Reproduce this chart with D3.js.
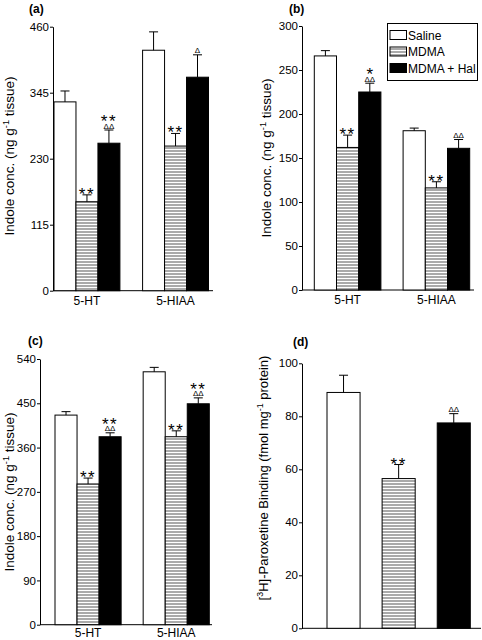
<!DOCTYPE html>
<html><head><meta charset="utf-8">
<script src="https://cdn.jsdelivr.net/npm/d3@7"></script>
<style>
body{margin:0;background:#fff}
text{font-family:"Liberation Sans",Arial,Helvetica,sans-serif;fill:#000}
</style>
</head><body>
<svg id="chart" width="482" height="640"></svg>
<script>
// ---------------- DATA ----------------
const categories = ["5-HT", "5-HIAA"];
const seriesNames = ["Saline", "MDMA", "MDMA + Hal"];

// Panel (a)
const aSaline = [329, 419], aMDMA = [155, 252], aHal = [257, 372];
const aSalineErr = [19, 32], aMDMAErr = [12, 22], aHalErr = [23, 39];
const aStars  = [["", ""], ["**", "**"], ["**", ""]];
const aDeltas = [["", ""], ["", ""], ["ΔΔ", "Δ"]];
const aTicks = [0, 115, 230, 345, 460];

// Panel (b)
const bSaline = [266, 181], bMDMA = [162, 116], bHal = [225, 161];
const bSalineErr = [6, 3], bMDMAErr = [14, 7], bHalErr = [10, 10];
const bStars  = [["", ""], ["**", "**"], ["*", ""]];
const bDeltas = [["", ""], ["", ""], ["ΔΔ", "ΔΔ"]];
const bTicks = [0, 50, 100, 150, 200, 250, 300];

// Panel (c)
const cSaline = [426, 514], cMDMA = [286, 382], cHal = [382, 449];
const cSalineErr = [7, 9], cMDMAErr = [12, 12], cHalErr = [8, 12];
const cStars  = [["", ""], ["**", "**"], ["**", "**"]];
const cDeltas = [["", ""], ["", ""], ["ΔΔ", "ΔΔ"]];
const cTicks = [0, 90, 180, 270, 360, 450, 540];

// Panel (d)
const dValues = [89, 56.5, 77.5];
const dErr = [6.5, 5.3, 3.5];
const dStars  = ["", "**", ""];
const dDeltas = ["", "", "ΔΔ"];
const dTicks = [0, 20, 40, 60, 80, 100];

// ---------------- DRAW ----------------
const svg = d3.select("#chart");
const defs = svg.append("defs");
const pat = defs.append("pattern").attr("id", "hatch")
  .attr("patternUnits", "userSpaceOnUse").attr("width", 6).attr("height", 3);
pat.append("rect").attr("width", 6).attr("height", 3).attr("fill", "#fff");
pat.append("line").attr("x1", 0).attr("x2", 6).attr("y1", 1).attr("y2", 1)
  .attr("stroke", "#555").attr("stroke-width", 1);

const fills = ["#fff", "url(#hatch)", "#000"];

function yAxis(g, y, ticks, axX) {
  const ax = g.append("g").attr("transform", `translate(${axX},0)`)
    .call(d3.axisLeft(y).tickValues(ticks).tickSize(3).tickSizeOuter(0).tickFormat(d3.format("d")));
  ax.select(".domain").attr("stroke", "#000");
  ax.selectAll(".tick line").attr("stroke", "#000");
  ax.selectAll(".tick text").attr("font-size", 11.5).attr("x", -4)
    .attr("font-family", "'Liberation Sans',Arial,sans-serif").attr("fill", "#000");
  return ax;
}

function annotate(g, cx, errTop, star, delta) {
  if (!star && !delta) return;
  const t = g.append("text").attr("text-anchor", "middle");
  if (star && delta) {
    t.attr("x", cx).attr("y", errTop - 3);
    t.append("tspan").attr("x", cx).attr("font-size", 17)
      .attr("letter-spacing", star.length > 1 ? 1.5 : 0).text(star);
    t.append("tspan").attr("x", cx).attr("dy", 1.5).attr("font-size", 8).text(delta);
  } else if (delta) {
    t.attr("x", cx).attr("y", errTop - 1.5).attr("font-size", 8).text(delta);
  } else {
    t.attr("x", cx).attr("y", errTop + 5).attr("font-size", 17)
      .attr("letter-spacing", star.length > 1 ? 1.5 : 0).text(star);
  }
}

function drawBar(g, x, w, y, v, e, fill) {
  g.append("rect").attr("x", x).attr("y", y(v)).attr("width", w)
    .attr("height", y(0) - y(v)).attr("fill", fill)
    .attr("stroke", "#000").attr("stroke-width", 1);
  const cx = x + w / 2;
  g.append("line").attr("x1", cx).attr("x2", cx).attr("y1", y(v)).attr("y2", y(v + e))
    .attr("stroke", "#000").attr("stroke-width", 1);
  g.append("line").attr("x1", cx - 4.5).attr("x2", cx + 4.5).attr("y1", y(v + e)).attr("y2", y(v + e))
    .attr("stroke", "#000").attr("stroke-width", 1);
  return cx;
}

function yLabel(g, x, cy, size, parts) {
  const t = g.append("text").attr("transform", `translate(${x},${cy}) rotate(-90)`)
    .attr("text-anchor", "middle").attr("font-size", size);
  parts.forEach(p => {
    const s = t.append("tspan").text(p.t);
    if (p.sup) s.attr("font-size", size * 0.68).attr("baseline-shift", "super");
  });
}

function groupPanel(cfg) {
  const g = svg.append("g");
  const y = d3.scaleLinear().domain([0, cfg.max]).range([cfg.y0, cfg.yTop]);
  const x0 = d3.scaleBand().domain(categories).range(cfg.barRange).paddingInner(cfg.pad);
  const x1 = d3.scaleBand().domain(seriesNames).range([0, x0.bandwidth()]);
  g.append("line").attr("x1", cfg.axX).attr("x2", cfg.axEnd).attr("y1", y(0)).attr("y2", y(0))
    .attr("stroke", "#000").attr("stroke-width", 1);
  cfg.series.forEach((vals, si) => {
    vals.forEach((v, ci) => {
      const xx = x0(categories[ci]) + x1(seriesNames[si]);
      const cx = drawBar(g, xx, x1.bandwidth(), y, v, cfg.errs[si][ci], fills[si]);
      annotate(g, cx, y(v + cfg.errs[si][ci]), cfg.stars[si][ci], cfg.deltas[si][ci]);
    });
  });
  yAxis(g, y, cfg.ticks, cfg.axX);
  categories.forEach(c => {
    g.append("text").attr("x", x0(c) + x0.bandwidth() / 2).attr("y", y(0) + cfg.catDy)
      .attr("text-anchor", "middle").attr("font-size", 12).text(c);
  });
  yLabel(g, cfg.labX, cfg.labCY, 13.5,
    [{t: "Indole conc. (ng g"}, {t: "-1", sup: true}, {t: " tissue)"}]);
  g.append("text").attr("x", cfg.tagX).attr("y", cfg.tagY).attr("font-size", 12)
    .attr("font-weight", "bold").text(cfg.tag);
  return g;
}

groupPanel({tag: "(a)", tagX: 29, tagY: 13, max: 460, y0: 290.7, yTop: 26.7, axX: 53, axEnd: 213,
  barRange: [54, 208.5], pad: 0.256, ticks: aTicks, labX: 14, labCY: 156, catDy: 14,
  series: [aSaline, aMDMA, aHal], errs: [aSalineErr, aMDMAErr, aHalErr], stars: aStars, deltas: aDeltas});

groupPanel({tag: "(b)", tagX: 289, tagY: 13, max: 300, y0: 290, yTop: 26, axX: 302, axEnd: 474,
  barRange: [314.3, 469.7], pad: 0.25, ticks: bTicks, labX: 271, labCY: 158, catDy: 14,
  series: [bSaline, bMDMA, bHal], errs: [bSalineErr, bMDMAErr, bHalErr], stars: bStars, deltas: bDeltas});

groupPanel({tag: "(c)", tagX: 28, tagY: 345, max: 540, y0: 624.7, yTop: 359, axX: 40, axEnd: 212,
  barRange: [55, 209.3], pad: 0.25, ticks: cTicks, labX: 14, labCY: 492, catDy: 12,
  series: [cSaline, cMDMA, cHal], errs: [cSalineErr, cMDMAErr, cHalErr], stars: cStars, deltas: cDeltas});

// Legend (in panel b)
const lg = svg.append("g");
lg.append("rect").attr("x", 387.5).attr("y", 23.5).attr("width", 90).attr("height", 57)
  .attr("fill", "#fff").attr("stroke", "#000").attr("stroke-width", 1);
const legY = d3.scalePoint().domain(seriesNames).range([35, 68]);
seriesNames.forEach((s, i) => {
  lg.append("rect").attr("x", 390).attr("y", legY(s) - 4.5).attr("width", 16.5).attr("height", 9)
    .attr("fill", fills[i]).attr("stroke", "#000").attr("stroke-width", 1);
  lg.append("text").attr("x", 408).attr("y", legY(s) + 4.5).attr("font-size", 12).text(s);
});

// Panel (d)
(function () {
  const g = svg.append("g");
  const y = d3.scaleLinear().domain([0, 100]).range([628.3, 363.3]);
  const x = d3.scaleBand().domain(seriesNames).range([327, 470.3]).paddingInner(0.4);
  g.append("line").attr("x1", 302).attr("x2", 481).attr("y1", y(0)).attr("y2", y(0))
    .attr("stroke", "#000").attr("stroke-width", 1);
  seriesNames.forEach((s, i) => {
    const cx = drawBar(g, x(s), x.bandwidth(), y, dValues[i], dErr[i], fills[i]);
    annotate(g, cx, y(dValues[i] + dErr[i]), dStars[i], dDeltas[i]);
  });
  yAxis(g, y, dTicks, 302);
  yLabel(g, 268, 478, 13,
    [{t: "["}, {t: "3", sup: true}, {t: "H]-Paroxetine Binding (fmol mg"}, {t: "-1", sup: true}, {t: " protein)"}]);
  g.append("text").attr("x", 293).attr("y", 346).attr("font-size", 12)
    .attr("font-weight", "bold").text("(d)");
})();
</script>
</body></html>
